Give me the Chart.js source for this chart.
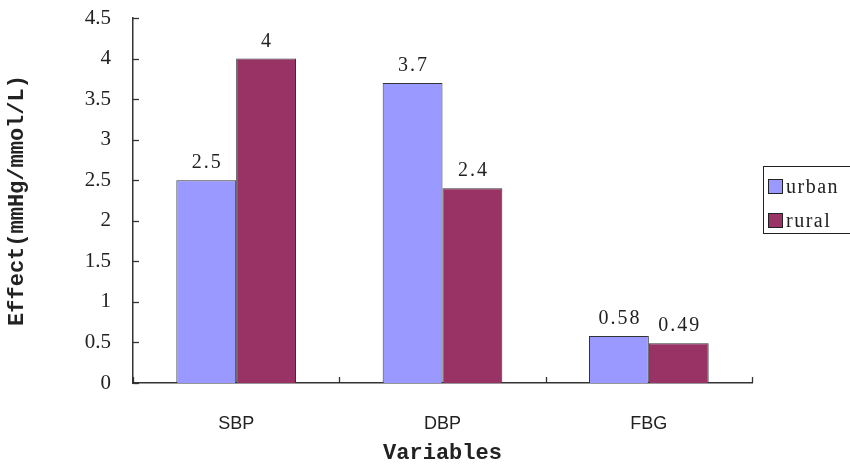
<!DOCTYPE html>
<html>
<head>
<meta charset="utf-8">
<script src="https://cdn.jsdelivr.net/npm/chart.js@4/dist/chart.umd.min.js"></script>
<style>
  html, body { margin: 0; padding: 0; background: #fff; }
  #wrap { width: 850px; height: 471px; }
</style>
</head>
<body>
<div id="wrap"><canvas id="chart"></canvas></div>
<script>
const categories = ["SBP", "DBP", "FBG"];
const urbanValues = [2.5, 3.7, 0.58];
const ruralValues = [4, 2.4, 0.49];
const seriesNames = ["urban", "rural"];
const seriesColors = ["#9999ff", "#993366"];
const yTicks = [0, 0.5, 1, 1.5, 2, 2.5, 3, 3.5, 4, 4.5];

const numFont = "'Liberation Serif', 'DejaVu Serif', serif";
const monoFont = "'Liberation Mono', 'DejaVu Sans Mono', monospace";

// ticks point inward, value labels above bars, legend box on the right
const extras = {
    id: "extras",
    afterDatasetsDraw(chart) {
        const ctx = chart.ctx;
        const area = chart.chartArea;
        const y = chart.scales.y;
        ctx.save();
        ctx.strokeStyle = "#333";
        ctx.lineWidth = 1.3;
        yTicks.forEach(v => {
            const py = Math.round(y.getPixelForValue(v)) + 0.5;
            ctx.beginPath();
            ctx.moveTo(area.left, py);
            ctx.lineTo(area.left + 6, py);
            ctx.stroke();
        });
        for (let i = 0; i <= categories.length; i++) {
            const px = Math.round(area.left + (area.right - area.left) * i / categories.length) + 0.5;
            ctx.beginPath();
            ctx.moveTo(px, area.bottom);
            ctx.lineTo(px, area.bottom - 6);
            ctx.stroke();
        }

        ctx.fillStyle = "#222";
        ctx.font = "20px " + numFont;
        ctx.letterSpacing = "2px";
        ctx.textAlign = "center";
        ctx.textBaseline = "alphabetic";
        chart.data.datasets.forEach((ds, di) => {
            chart.getDatasetMeta(di).data.forEach((bar, i) => {
                ctx.fillText(String(ds.data[i]), bar.x + 1, bar.y - 12);
            });
        });

        // legend
        ctx.strokeStyle = "#222";
        ctx.lineWidth = 1;
        ctx.fillStyle = "#fff";
        ctx.fillRect(763.5, 166.5, 100, 67);
        ctx.strokeRect(763.5, 166.5, 100, 67);
        ctx.textAlign = "left";
        ctx.textBaseline = "middle";
        ctx.font = "20px " + numFont;
        ctx.letterSpacing = "1.5px";
        chart.data.datasets.forEach((ds, di) => {
            const cy = 187 + di * 34;
            ctx.fillStyle = ds.backgroundColor;
            ctx.fillRect(768.5, cy - 7.5, 14, 14);
            ctx.strokeStyle = "#222";
            ctx.strokeRect(768.5, cy - 7.5, 14, 14);
            ctx.fillStyle = "#222";
            ctx.fillText(ds.label, 786, cy + 1);
        });
        ctx.restore();
    }
};

new Chart(document.getElementById("chart"), {
    type: "bar",
    data: {
        labels: categories,
        datasets: [
            {
                label: seriesNames[0],
                data: urbanValues,
                backgroundColor: seriesColors[0],
                borderColor: "#333",
                borderWidth: 1,
            },
            {
                label: seriesNames[1],
                data: ruralValues,
                backgroundColor: seriesColors[1],
                borderColor: "#333",
                borderWidth: 1,
            }
        ]
    },
    options: {
        responsive: true,
        maintainAspectRatio: false,
        animation: false,
        layout: { padding: { top: 18, right: 98, left: 0, bottom: 0 } },
        datasets: { bar: { categoryPercentage: 0.58, barPercentage: 1.0 } },
        scales: {
            x: {
                grid: { display: false, drawTicks: false },
                border: { display: true, color: "#333", width: 1.5 },
                ticks: {
                    color: "#222",
                    padding: 30,
                    font: { family: "'Liberation Sans Narrow', 'Liberation Sans', sans-serif", size: 18 }
                },
                title: {
                    display: true,
                    text: "Variables",
                    color: "#222",
                    font: { family: monoFont, size: 22, weight: "bold" },
                    padding: { top: 16 }
                },
                afterFit(scale) {
                    scale.height = 88;
                    scale.paddingLeft = 0;
                    scale.paddingRight = 0;
                }
            },
            y: {
                min: 0,
                max: 4.5,
                grid: { display: false, drawTicks: false },
                border: { display: true, color: "#333", width: 1.5 },
                afterBuildTicks(scale) { scale.ticks = yTicks.map(v => ({ value: v })); },
                ticks: {
                    color: "#222",
                    padding: 22,
                    font: { family: numFont, size: 21 },
                    callback: v => String(v)
                },
                title: {
                    display: true,
                    text: "Effect(mmHg/mmol/L)",
                    color: "#222",
                    font: { family: monoFont, size: 22, weight: "bold" },
                    padding: { top: 4, bottom: 0 }
                },
                afterFit(scale) {
                    scale.width = 133;
                    scale.paddingTop = 0;
                    scale.paddingBottom = 0;
                }
            }
        },
        plugins: {
            legend: { display: false },
            tooltip: { enabled: false }
        }
    },
    plugins: [extras]
});
</script>
</body>
</html>
